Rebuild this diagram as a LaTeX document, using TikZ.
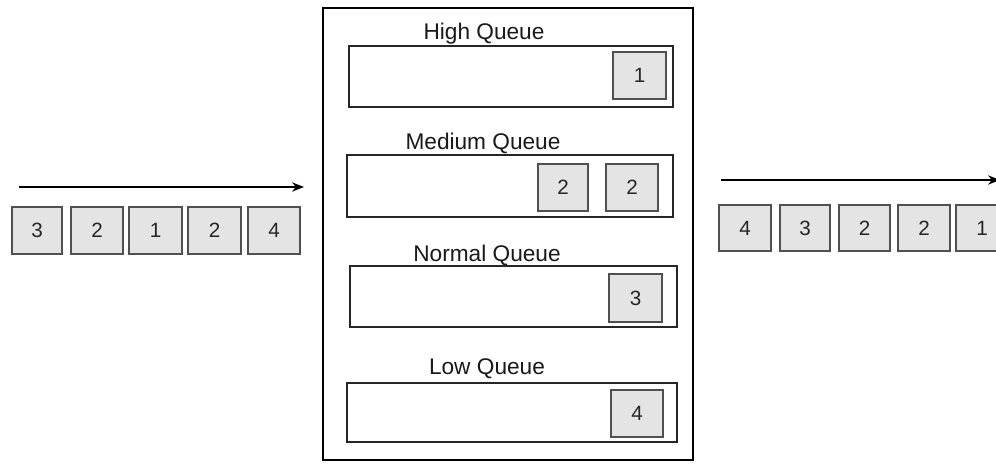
\documentclass[tikz,border=0pt]{standalone}
\usepackage{fontspec}
\setmainfont{Liberation Sans}
\usetikzlibrary{arrows.meta,fit}
\definecolor{pktfill}{HTML}{E4E4E4}
\definecolor{pktline}{HTML}{505050}
\tikzset{
  pkt/.style={draw=pktline, fill=pktfill, line width=1.1pt, inner sep=0pt},
  digit/.style={font=\fontsize{15.5}{17}\selectfont, inner sep=0pt, text=black!85},
  queue/.style={draw=black!85, line width=1pt, inner sep=0pt},
  qlabel/.style={font=\fontsize{17}{19}\selectfont, inner sep=0pt, text=black!90},
  frame/.style={draw=black, line width=1.6pt, inner sep=0pt},
  flow/.style={line width=1pt, -{Stealth[length=9pt,width=7pt]}},
}
% a packet box spanning two corners, with its priority number in the middle
\newcommand\packet[4]{\node[pkt, fit={#2 #3}, label={[digit]center:#4}] (#1) {};}
\begin{document}
\begin{tikzpicture}[x=0.75pt,y=-0.75pt]
\useasboundingbox (0,0) rectangle (996,464);
\clip (0,0) rectangle (996,464);

% incoming packets
\coordinate (inA) at (19,187);
\coordinate (inB) at (304,187);
\draw[flow] (inA) -- (inB);
\packet{in1}{(12,207)}{(62,254)}{3}
\packet{in2}{(71,207)}{(123,254)}{2}
\packet{in3}{(129,207)}{(182,254)}{1}
\packet{in4}{(188,207)}{(241,254)}{2}
\packet{in5}{(248,207)}{(300,254)}{4}

% scheduler with four priority queues
\node[frame, fit={(323,8) (693,460)}] (sched) {};

\node[qlabel] (lhigh) at (484,34) {High Queue};
\node[queue, fit={(349,46) (673,107)}] (high) {};
\packet{h1}{(613,52)}{(666,99)}{1}

\node[qlabel] (lmed) at (483,143) {Medium Queue};
\node[queue, fit={(347,155) (673,217)}] (med) {};
\packet{m1}{(538,164)}{(588,211)}{2}
\packet{m2}{(606,164)}{(658,211)}{2}

\node[qlabel] (lnorm) at (487,255) {Normal Queue};
\node[queue, fit={(350,266) (677,327)}] (norm) {};
\packet{n1}{(609,274)}{(662,322)}{3}

\node[qlabel] (llow) at (487,369) {Low Queue};
\node[queue, fit={(347,383) (677,442)}] (low) {};
\packet{w1}{(611,390)}{(663,437)}{4}

% outgoing packets
\coordinate (outA) at (721,180);
\coordinate (outB) at (1000,180);
\draw[flow] (outA) -- (outB);
\packet{out1}{(719,205)}{(771,251)}{4}
\packet{out2}{(780,205)}{(830,251)}{3}
\packet{out3}{(839,205)}{(890,251)}{2}
\packet{out4}{(898,205)}{(950,251)}{2}
\packet{out5}{(956,205)}{(1008,251)}{1}
\end{tikzpicture}
\end{document}
